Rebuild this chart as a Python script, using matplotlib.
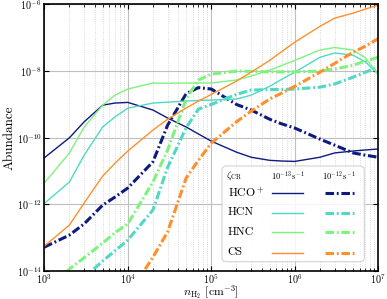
import numpy as np
import matplotlib
matplotlib.use("Agg")
import matplotlib.pyplot as plt
from matplotlib.ticker import FixedLocator, LogFormatterSciNotation, LogLocator, NullLocator
from matplotlib.patches import FancyBboxPatch
from matplotlib.lines import Line2D

plt.rcParams["font.family"] = "serif"
plt.rcParams["font.serif"] = ["cmr10", "DejaVu Serif"]
plt.rcParams["mathtext.fontset"] = "cm"
plt.rcParams["axes.formatter.use_mathtext"] = True

# density grid (cm^-3)
n_h2 = [1e3, 2e3, 3e3, 5e3, 7e3, 1e4, 2e4, 3e4, 5e4, 7e4, 1e5,
        2e5, 3e5, 5e5, 7e5, 1e6, 2e6, 3e6, 5e6, 7e6, 1e7]

# zeta_CR = 1e-13 s^-1 (solid)
hco_lo = [2.5e-11, 1.0e-10, 3.0e-10, 9.5e-10, 1.1e-9, 1.15e-9, 6.8e-10, 3.9e-10, 2.1e-10, 1.3e-10, 7.9e-11,
          3.7e-11, 2.6e-11, 2.1e-11, 2.0e-11, 1.95e-11, 2.6e-11, 3.5e-11, 4.0e-11, 4.3e-11, 4.6e-11]
hcn_lo = [1.07e-12, 4.7e-12, 3.0e-11, 2.1e-10, 4.2e-10, 7.7e-10, 1.1e-9, 1.17e-9, 1.26e-9, 1.32e-9, 1.35e-9,
          1.45e-9, 1.9e-9, 3.5e-9, 5.7e-9, 9.3e-9, 2.6e-8, 3.5e-8, 3.0e-8, 1.9e-8, 8.1e-9]
hnc_lo = [4.4e-12, 3.5e-11, 2.1e-10, 9.5e-10, 1.9e-9, 2.9e-9, 4.4e-9, 4.3e-9, 4.4e-9, 4.4e-9, 4.4e-9,
          5.4e-9, 7.1e-9, 1.07e-8, 1.48e-8, 2.1e-8, 4.3e-8, 5.1e-8, 4.3e-8, 2.5e-8, 8.1e-9]
cs_lo = [5.6e-14, 2.4e-13, 1.1e-12, 7.1e-12, 1.7e-11, 4.0e-11, 1.7e-10, 3.6e-10, 7.8e-10, 1.26e-9, 2.0e-9,
         5.0e-9, 9.3e-9, 2.1e-8, 3.9e-8, 7.4e-8, 2.2e-7, 3.9e-7, 5.5e-7, 7.3e-7, 9.6e-7]

# zeta_CR = 1e-12 s^-1 (dash-dot)
hco_hi = [5.2e-14, 1.2e-13, 2.6e-13, 9.5e-13, 1.65e-12, 3.1e-12, 1.9e-11, 2.4e-10, 2.1e-9, 3.2e-9, 2.9e-9,
          1.0e-9, 6.8e-10, 3.6e-10, 2.6e-10, 1.95e-10, 9.1e-11, 6.0e-11, 3.5e-11, 3.0e-11, 2.6e-11]
hcn_hi = [6e-16, 2.8e-15, 6.3e-15, 2.0e-14, 4.0e-14, 8.5e-14, 6.8e-13, 1.3e-11, 2.0e-10, 7.2e-10, 1.0e-9,
          2.0e-9, 2.7e-9, 2.8e-9, 2.8e-9, 2.9e-9, 3.3e-9, 4.1e-9, 6.6e-9, 9.3e-9, 1.3e-8]
hnc_hi = [2e-15, 1.15e-14, 2.5e-14, 6.9e-14, 1.4e-13, 2.6e-13, 4.7e-12, 4.3e-11, 1.45e-9, 5.4e-9, 8.1e-9,
          1.0e-8, 9.8e-9, 9.5e-9, 9.5e-9, 9.5e-9, 1.0e-8, 1.15e-8, 1.5e-8, 2.0e-8, 2.6e-8]
cs_hi = [np.nan, np.nan, np.nan, np.nan, np.nan, 1.8e-15, 2.6e-14, 1.5e-13, 6.2e-12, 2.1e-11, 6.9e-11,
         3.0e-10, 6.3e-10, 1.45e-9, 2.2e-9, 3.5e-9, 9.3e-9, 1.7e-8, 3.7e-8, 5.6e-8, 9.5e-8]

species = ["HCO$^+$", "HCN", "HNC", "CS"]
colors = ["#0d1b7e", "#4fd9c4", "#7ef27e", "#ff8f2a"]
low = [hco_lo, hcn_lo, hnc_lo, cs_lo]
high = [hco_hi, hcn_hi, hnc_hi, cs_hi]
dashdot = (0, (2.8, 0.9, 0.6, 0.9))

fig = plt.figure(figsize=(3.87, 2.99), dpi=100)
ax = fig.add_axes([0.1145, 0.0936, 0.863, 0.8914])

for lo, hi, c in zip(low, high, colors):
    ax.plot(n_h2, lo, color=c, lw=1.0)
    ax.plot(n_h2, hi, color=c, lw=2.2, ls=dashdot)

ax.set_xscale("log")
ax.set_yscale("log")
ax.set_xlim(1e3, 1e7)
ax.set_ylim(1e-14, 1e-6)

ax.yaxis.set_major_locator(FixedLocator([1e-14, 1e-12, 1e-10, 1e-8, 1e-6]))
ax.yaxis.set_major_formatter(LogFormatterSciNotation())
ax.yaxis.set_minor_locator(NullLocator())
ax.xaxis.set_minor_locator(LogLocator(base=10, subs=np.arange(2, 10)))

ax.grid(True, which="major", color="0.75", lw=0.8)
ax.grid(True, which="minor", axis="x", color="0.8", lw=0.6, ls=":")
ax.tick_params(which="both", direction="in", top=True, right=True, labelsize=7.3, pad=2)
ax.tick_params(axis="x", pad=1)
ax.tick_params(which="major", length=3.5, width=0.8)
ax.tick_params(which="minor", length=2, width=0.6)
for s in ax.spines.values():
    s.set_linewidth(1.2)

ax.set_xlabel(r"$n_{\rm H_2}$ [cm$^{-3}$]", fontsize=8.5, labelpad=-1.5)
ax.set_ylabel("Abundance", fontsize=9.5, labelpad=1)

# custom table legend
box = FancyBboxPatch((0.532, 0.035), 0.426, 0.359, boxstyle="round,pad=0,rounding_size=0.015",
                     transform=ax.transAxes, fc="white", ec="0.8", lw=0.8, alpha=0.85, zorder=5)
ax.add_patch(box)
ax.text(0.568, 0.36, r"$\zeta_{\rm CR}$", transform=ax.transAxes, ha="center", va="center",
        fontsize=7, zorder=6)
ax.text(0.730, 0.36, r"$10^{-13}\,{\rm s}^{-1}$", transform=ax.transAxes, ha="center", va="center",
        fontsize=6, zorder=6)
ax.text(0.882, 0.36, r"$10^{-12}\,{\rm s}^{-1}$", transform=ax.transAxes, ha="center", va="center",
        fontsize=6, zorder=6)
rows_y = [0.292, 0.219, 0.145, 0.069]
for name, c, yy in zip(species, colors, rows_y):
    ax.text(0.549, yy, name, transform=ax.transAxes, ha="left", va="center", fontsize=8.5, zorder=6)
    ax.add_line(Line2D([0.683, 0.776], [yy, yy], transform=ax.transAxes, color=c, lw=1.0, zorder=6))
    ax.add_line(Line2D([0.840, 0.928], [yy, yy], transform=ax.transAxes, color=c, lw=2.2,
                       ls=dashdot, zorder=6))

fig.savefig("out.png", dpi=100)
